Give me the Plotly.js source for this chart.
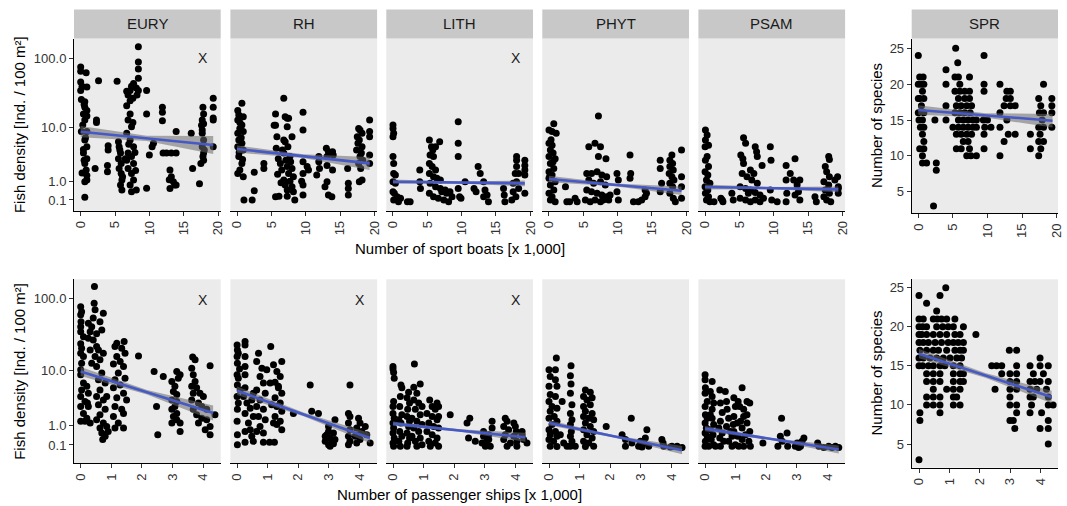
<!DOCTYPE html>
<html><head><meta charset="utf-8">
<script src="https://cdn.plot.ly/plotly-3.0.1.min.js"></script>
<style>html,body{margin:0;padding:0;background:#fff}#chart{width:1067px;height:506px}</style>
</head><body><div id="chart"></div>
<script>
// ---------- tick labels / categories ----------
const groups = ['EURY','RH','LITH','PHYT','PSAM','SPR'];
const sportBoatTicks = [0,5,10,15,20];
const passengerTicks = [0,1,2,3,4];
const densityTicks = [0.1,1,10,100];
const densityTickText = ['0.1','1.0','10.0','100.0'];
const speciesTicks = [5,10,15,20,25];
const sportBoatTitle = 'Number of sport boats [x 1,000]';
const passengerTitle = 'Number of passenger ships [x 1,000]';
const densityTitle = 'Fish density [Ind. / 100 m²]';
const speciesTitle = 'Number of species';

// ---------- points: [boats or ships (x1000), density (Ind./100 m²) or species] ----------
const boats_EURY = [[0,75],[0,65],[0.8,62],[0,46],[0.9,39],[0,35],[0.1,26],[0.6,24],[0.6,20],[0.9,18],[0.4,16],[0.9,15],[0.6,13],[0.1,8.7],[0.9,8.7],[0.6,6.4],[0.9,5.0],[0.4,3.9],[0.9,3.1],[0.6,2.5],[0.8,1.85],[0.9,1.4],[0.6,0.97],[0.9,1.07],[0.6,0.2],[0.2,40],[0.5,22],[0.3,11],[0.7,7],[0.4,4.5],[0.5,2.9],[0.2,1.6],
[2.6,48],[2.3,13],[2.3,12],[2.1,2.0],[4.0,5.2],[4.0,4.4],[3.9,2.3],[3.9,1.7],
[5.3,47],[5.5,6.0],[5.6,5.0],[5.8,3.9],[5.5,3.1],[5.9,2.5],[5.6,2.0],[5.9,1.56],[6.0,1.07],[5.8,0.77],[6.0,0.51],[5.7,4.4],[6.1,1.3],
[6.7,34],[6.9,30],[7.2,25],[7.4,40],[7.7,44],[7.2,35],[7.6,27],[8.1,38],[8.4,35],[8.4,52],[8.4,144],[8.4,88],[8.4,70],[8.2,30],[6.7,21],[6.9,13],[6.7,8.2],[7.4,10.3],[7.2,6.4],[7.7,5.0],[6.9,3.9],[7.4,3.4],[6.7,2.9],[7.7,2.5],[6.9,2.0],[7.4,1.56],[7.7,1.07],[7.2,0.77],[7.4,0.43],[8.1,0.51],[7.0,5.5],[7.9,4.0],[8.0,1.8],[6.5,3.1],[7.6,12],[7.2,16],
[9.6,35],[9.6,16],[10.4,5.0],[10.0,3.6],[9.6,0.6],[10.6,5.7],[11.9,20],[11.9,17],[11.9,12.7],[12.0,3.9],[12.5,3.9],
[13.2,3.9],[13.0,1.85],[13.2,1.3],[13.5,0.97],[13.7,0.77],[13.0,0.59],[13.9,8.7],[13.9,3.9],[13.9,0.77],[12.9,1.1],[16.1,8.2],[16.3,2.0],
[17.3,0.85],[17.6,10.9],[17.7,9.2],[17.8,20],[17.9,16],[17.7,13],[17.9,11.5],[17.7,8.2],[17.9,6.4],[17.7,5],[17.9,3.9],[17.8,3.4],[17.5,2.5],[18.0,4.4],[17.9,2.9],
[19.3,27],[19.3,20],[19.3,14],[19.3,13],[19.3,5.0]];

const boats_RH = [[0.1,18],[0.7,23],[0.25,15.4],[0.9,14.6],[0.1,13],[0.7,11],[0.4,9.7],[0.1,8.2],[0.9,8.7],[0.25,6.4],[0.7,5.7],[0.1,5.0],[0.9,4.4],[0.25,3.4],[0.7,2.5],[0.4,1.85],[0.1,1.56],[0.9,1.31],[0.4,12],[0.6,7],[0.3,4],[0.8,3],[1.0,0.1],[2.2,0.1],[2.5,0.48],[2.5,1.65],
[3.9,2.5],[3.9,2.0],
[5.6,16],[5.6,10.9],[5.8,7.2],[5.7,4.7],[5.4,10.9],[6.8,27],[7.0,14.6],[7.3,13.8],[7.5,13.8],[7.3,10.3],[6.8,6.4],[7.0,6.0],[7.4,5.0],[6.8,3.9],[7.7,3.4],[6.3,2.5],[7.3,2.2],[8.0,2.0],[6.5,1.85],[7.5,1.56],[8.2,1.31],[6.8,1.07],[7.7,1.0],[7.0,0.77],[8.0,0.68],[7.3,0.51],[8.2,0.43],[5.6,0.22],[6.1,0.24],[7.3,0.24],[8.4,0.1],[6.0,3.1],[6.6,4.4],[7.1,2.9],[5.9,1.5],[6.4,0.9],[8.0,7.2],[7.8,2.7],
[9.6,17],[9.6,9.2],[9.6,2.7],[9.6,1.56],[9.4,1.0],[9.6,0.77],[9.6,0.29],[10.2,2.2],[10.4,1.85],
[11.9,3.4],[11.9,2.7],[12.0,2.0],[11.6,1.43],
[13.0,4.7],[13.3,4.1],[13.1,3.4],[13.1,2.3],[13.1,0.97],[12.8,0.68],[13.3,0.29],[13.8,0.22],[13.9,4.1],[14.0,3.6],[13.9,1.85],
[16.1,2.0],[16.2,0.87],[16.2,0.59],[16.2,0.29],
[17.7,9.7],[17.9,9.2],[17.5,7.2],[18.2,8.2],[17.8,6.4],[18.2,5.0],[17.4,4.4],[17.9,3.4],[18.3,2.9],[17.7,2.5],[18.0,2.0],[17.8,0.97],[18.2,1.07],[17.6,5.7],[18.1,3.9],
[19.3,13],[19.3,8.7],[19.3,7.2],[19.3,3.6],[19.3,2.5]];

const boats_LITH = [[0,11],[0,9.7],[0.1,8.2],[0,7.2],[0,3.4],[0.1,2.5],[0.1,1.56],[0.35,1.43],[0,0.97],[0.35,0.87],[0,0.43],[0.2,0.36],[0.6,0.22],[0.1,0.1],[0.8,0.04],[1.1,0.16],
[2.1,0.04],[2.5,0.04],[3.9,1.85],[3.9,0.97],[4.0,0.59],
[5.3,6.4],[5.6,5.0],[5.8,4.4],[6.8,6.0],[6.2,5.0],[5.4,3.6],[5.9,3.4],[5.3,2.5],[5.7,2.2],[6.2,1.85],[5.3,1.56],[5.9,1.31],[6.4,1.19],[6.9,1.07],[5.4,0.87],[6.2,0.68],[6.9,0.59],[7.6,0.51],[8.3,0.43],[5.3,0.36],[5.9,0.22],[6.6,0.16],[7.4,0.1],[8.1,0.04],[8.6,0.22],[7.8,0.36],[7.1,0.43],
[9.5,12.3],[9.5,5.7],[9.5,3.4],[9.5,0.59],[9.7,0.22],[9.9,0.16],[10.5,0.97],
[11.8,0.59],[12.1,0.43],[12.4,2.2],[12.7,1.56],
[13.2,0.97],[13.4,0.51],[13.7,0.29],[13.9,0.04],[13.2,0.22],
[16.1,0.59],[16.2,0.29],[16.3,0.04],
[18.0,3.4],[18.0,2.9],[17.8,1.56],[17.5,0.87],[18.0,0.97],[18.3,0.59],[17.5,0.43],[17.9,0.22],[17.3,0.1],[18.3,1.56],[18.0,2.2],
[19.2,2.9],[19.2,2.3],[19.2,1.85],[19.2,1.43],[19.2,0.36]];

const boats_PHYT = [[0,9.2],[0.7,11.5],[0.45,8.7],[1.05,8.2],[0,5.7],[0.45,5.3],[0.2,4.4],[0.6,3.9],[0,3.4],[0.9,3.1],[0.2,2.5],[0.7,2.0],[0,1.7],[0.45,1.43],[0,1.19],[0.9,0.97],[0.2,0.77],[0.7,0.51],[0,0.36],[0.45,0.22],[0.2,0.1],[0.9,0.04],[0.3,6.5],[0.6,2.7],[0.1,1.3],
[2.4,0.68],[2.6,0.04],[3.0,0.04],[3.8,0.16],[4.1,0.04],
[7.2,15],[5.8,5.0],[6.7,5.7],[7.5,5.0],[7.2,3.4],[8.3,3.1],[5.5,1.56],[6.2,1.56],[7.0,1.7],[7.7,1.43],[8.4,1.31],[5.8,1.07],[6.5,0.87],[7.5,0.97],[8.2,0.77],[5.5,0.51],[6.2,0.43],[7.0,0.36],[7.7,0.29],[8.4,0.22],[5.3,0.1],[6.0,0.04],[6.7,0.1],[7.5,0.04],[7.9,0.1],[8.7,0.1],[8.9,0.29],[9.9,1.56],[10.1,1.07],[9.9,0.43],[10.1,0.1],
[11.8,3.6],[11.9,1.56],[11.8,1.19],
[12.3,0.04],[13.0,0.04],[13.5,0.1],[14.0,0.22],[14.2,0.36],[14.0,0.51],
[16.2,2.9],[16.2,2.0],[16.4,0.87],[16.2,0.43],
[17.9,3.6],[17.6,2.9],[18.0,2.5],[17.6,2.2],[18.1,1.85],[17.5,1.56],[17.9,1.31],[18.2,1.07],[17.6,0.87],[18.0,0.68],[17.6,0.36],[18.1,0.16],[18.4,0.04],
[19.3,4.4],[19.3,1.31],[19.3,0.68],[19.3,0.16]];

const boats_PSAM = [[0.05,9.2],[0.3,7.7],[0.05,6.4],[0.5,5.3],[0,5.0],[0.3,3.4],[0.05,2.9],[0.5,2.2],[0,1.7],[0.4,1.43],[0.2,1.07],[0.7,0.87],[0,0.68],[0.4,0.51],[0.05,0.36],[0.5,0.22],[0.2,0.1],[0.7,0.04],[1.3,0.04],
[2.3,0.16],[2.6,0.04],[2.5,0.1],[3.9,0.36],[4.1,0.1],
[5.6,7.0],[5.9,5.7],[5.2,3.6],[5.5,3.1],[5.6,2.5],[7.3,5.0],[7.5,4.1],[7.6,3.4],[8.3,2.3],[6.6,1.85],[5.4,1.56],[6.1,1.31],[6.8,1.07],[7.6,0.87],[5.1,0.68],[5.9,0.59],[6.6,0.51],[7.3,0.4],[8.0,0.29],[5.1,0.16],[5.9,0.1],[6.6,0.04],[7.3,0.1],[8.0,0.04],[8.5,0.16],[6.3,0.36],[7.1,1.56],
[9.5,5.0],[9.6,2.9],[9.5,0.51],[9.7,0.1],[10.5,0.04],
[11.8,2.3],[11.8,1.07],[11.9,0.36],[11.8,0.04],
[12.4,1.56],[12.9,1.07],[13.1,3.1],[13.4,0.77],[13.6,0.43],[13.8,1.07],[13.1,0.29],[13.8,0.1],
[16.0,0.22],[16.2,0.04],
[18.0,3.4],[18.1,3.0],[17.5,2.2],[17.7,1.7],[18.1,1.31],[17.3,0.97],[18.0,0.77],[17.5,0.51],[18.1,0.36],[17.3,0.22],[17.7,0.1],[18.3,0.04],[18.9,1.07],[19.3,1.31],
[19.4,0.68],[19.4,0.59],[19.4,0.36]];

const boats_SPR = [[0,24],[0.2,21],[0.7,21],[0,20],[0.45,20],[0.8,20],[0.6,19],[0.2,18],[0.8,18],[0,18],[0.45,17],[0,16],[0.8,16],[0.6,15],[0.1,15],[0.8,14],[0.3,14],[0.6,13],[0.2,11],[0.8,11],[0.6,10],[0.6,9],[1.2,9],[0.8,12],
[2.2,3],[2.6,9],[2.6,8],[2.4,15],[4.0,22],[4.0,20],[4.0,17],[4.0,15],
[5.4,25],[5.7,23],[5.3,21],[5.8,21],[7.4,21],[6.0,20],[5.3,19],[6.0,19],[6.7,19],[7.4,19],[5.8,18],[6.7,18],[7.4,18],[5.5,17],[6.2,17],[7.0,17],[7.7,17],[5.3,16],[6.0,16],[6.7,16],[7.5,16],[5.8,15],[6.5,15],[7.2,15],[7.9,15],[8.4,15],[5.0,14],[5.8,14],[6.5,14],[7.2,14],[7.9,14],[8.4,14],[5.5,13],[6.2,13],[7.0,13],[7.7,13],[6.5,12],[7.2,12],[5.5,11],[6.2,11],[7.4,11],[7.0,10],[7.6,10],[8.4,10],
[9.5,24],[9.5,20],[9.5,19],[9.4,15],[10.0,15],[9.6,14],[10.5,14],[9.5,13],[9.5,11],
[11.8,20],[11.8,16],[11.8,14],[11.8,10],
[12.8,19],[13.3,19],[12.7,18],[13.3,18],[12.4,17],[13.3,17],[14.0,17],[12.8,15],[13.0,13],[14.0,13],[12.4,12],
[16.2,13],[16.2,11],
[18.1,20],[17.4,18],[17.7,17],[17.5,16],[18.1,16],[17.9,15],[17.4,14],[18.1,14],[17.6,13],[17.4,12],[18.1,12],[17.7,11],[17.4,10],
[19.3,18],[19.3,17],[19.3,16],[19.3,14]];

const ships_EURY = [[0,77],[0.03,66],[0,60],[0.01,48],[0,41],[0,35],[0.09,30],[0,24],[0.03,20.7],[0,17.6],[0.09,15.8],[0.03,12.7],[0,10.2],[0,8.6],[0.09,6.4],[0.03,5.0],[0,3.9],[0.14,3.2],[0,2.6],[0.09,1.9],[0,1.28],[0.14,1.28],
[0.45,144],[0.44,86],[0.47,70],[0.41,54],[0.36,41],[0.25,46],[0.31,35],[0.52,33],[0.25,28.5],[0.41,27],[0.52,21.9],[0.31,19.6],[0.47,15.8],[0.36,12.7],[0.2,5.7],[0.25,4.4],[0.22,3.0],[0.25,2.6],[0.2,1.5],[0.31,1.16],[0.63,48],[0.74,63],[0.69,37],
[0.58,19.6],[0.74,17.6],[0.63,14.2],[0.52,11.4],[0.69,9.1],[0.58,7.2],[0.8,6.4],[0.63,5.0],[0.52,3.9],[0.74,3.4],[0.58,2.8],[0.8,2.3],[0.63,1.8],[0.52,1.4],[0.74,1.16],[0.63,0.85],[0.85,0.95],[0.69,0.59],[0.8,0.44],[0.72,0.3],[0.9,0.67],[0.85,3.9],
[1.42,25.7],[1.18,24.3],[1.12,21.9],[1.34,20.7],[1.45,17.6],[1.18,15.8],[1.29,13.4],[1.07,12.3],[1.4,11.4],[1.23,9.1],[1.12,7.2],[1.45,7.6],[1.29,6.0],[1.07,5.4],[1.4,4.4],[1.18,3.7],[1.5,3.4],[1.12,2.6],[1.34,2.3],[1.07,1.65],[1.4,1.9],[1.23,1.16],[1.12,0.85],[1.4,0.85],
[1.89,16.1],[2.4,9.6],[2.48,2.6],[2.52,0.51],[2.7,8.1],
[2.98,6.8],[3.08,5.7],[3.03,4.7],[3.14,4.2],[2.98,3.4],[3.14,3.2],[3.08,2.6],[2.98,2.3],[3.14,1.9],[3.03,1.65],[3.14,1.4],[2.98,1.16],[3.25,1.16],[3.25,0.67],[3.25,8.6],[3.14,9.6],[3.19,7.6],
[3.66,15.5],[3.74,14.2],[3.63,10.7],[3.68,8.6],[3.74,6.8],[3.63,5.7],[3.79,5.4],[3.68,4.4],[3.9,4.4],[4.01,3.9],[3.63,3.4],[3.85,3.0],[3.96,2.6],[3.68,2.3],[4.12,2.3],[3.79,1.8],[3.96,1.5],[4.12,1.4],[3.85,1.16],[4.23,0.95],[4.07,0.76],[4.23,0.51],[4.23,11.6],[4.39,1.8]];

const ships_RH = [[0,23],[0.01,19.6],[0.04,17.6],[0,15.8],[0.01,12.7],[0.08,10.4],[0,8.6],[0.04,7.6],[0.01,6.0],[0.1,5.0],[0,3.9],[0.04,3.0],[0.01,2.3],[0,1.28],[0.01,0.51],[0.01,0.11],[0.26,25.7],[0.26,23],[0.26,15.8],[0.26,11.4],[0.26,8.6],[0.26,5.4],[0.21,3.9],[0.32,3.0],[0.26,1.9],[0.37,1.16],[0.26,0.67],[0.26,0.2],[0.53,4.4],[0.48,3.4],[0.43,2.4],[0.53,1.65],[0.43,0.76],[0.53,0.23],[0.48,0.44],
[0.7,17.6],[0.64,13.4],[0.81,10.7],[0.75,8.1],[0.86,6.4],[0.64,5.0],[0.92,4.4],[0.75,3.4],[0.64,2.6],[0.86,2.3],[0.7,1.65],[0.92,1.4],[0.75,0.95],[0.64,0.67],[0.86,0.59],[0.86,0.2],[1.06,0.2],[0.97,10.2],[1.08,6.4],[1.13,2.8],[1.19,1.16],[1.22,0.2],
[1.1,21.9],[1.19,12],[1.3,9.6],[1.46,13.4],[1.41,8.1],[1.24,6.6],[1.35,5.7],[1.46,4.4],[1.24,3.7],[1.41,3.0],[1.3,2.6],[1.46,2.1],[1.24,1.65],[1.41,1.28],[1.3,1.06],[1.46,0.76],[1.35,5.4],
[1.84,1.9],[2.39,6.0],[2.44,2.1],[2.66,1.9],
[2.99,0.67],[2.93,0.51],[3.04,0.36],[2.88,0.23],[3.1,0.17],[2.99,0.11],[3.15,0.14],[3.04,0.06],[3.2,0.3],[3.15,0.59],[3.2,1.4],[2.99,0.95],[2.88,0.44],
[3.69,6.0],[3.64,1.9],[3.69,1.65],[3.64,1.16],[3.69,0.76],[3.64,0.44],[3.69,0.23],[3.64,0.11],
[3.97,1.5],[4.02,1.16],[3.91,0.85],[4.08,0.67],[3.97,0.51],[4.19,0.95],[4.24,0.51],[4.02,0.3],[3.91,0.17],[4.35,0.17],[3.86,0.44]];

const ships_LITH = [[0,11.4],[0,10.4],[0.02,9.3],[0.04,7.6],[0.02,3.2],[0,2.6],[0,1.9],[0.04,1.5],[0,1.16],[0.02,0.85],[0,0.59],[0.04,0.36],[0,0.17],[0.02,0.06],
[0.26,6.0],[0.29,5.4],[0.24,3.9],[0.22,2.6],[0.29,1.8],[0.19,1.4],[0.26,1.16],[0.22,0.67],[0.29,0.44],[0.19,0.23],[0.24,0.06],
[0.51,4.6],[0.46,3.7],[0.54,3.0],[0.48,2.3],[0.46,1.65],[0.54,1.28],[0.51,0.95],[0.46,0.59],[0.54,0.36],[0.48,0.17],[0.46,0.06],
[0.7,12.3],[0.68,5.5],[0.89,6.2],[0.78,4.4],[0.68,3.4],[0.84,3.0],[0.95,2.6],[0.73,2.3],[0.89,1.8],[0.62,1.5],[0.78,1.28],[0.95,1.06],[0.68,0.85],[0.84,0.67],[0.62,0.44],[0.89,0.36],[0.73,0.23],[0.95,0.11],[0.78,0.06],
[1.2,3.4],[1.28,2.6],[1.44,3.0],[1.38,2.3],[1.11,1.9],[1.28,1.65],[1.44,1.4],[1.17,1.16],[1.33,0.95],[1.49,0.85],[1.11,0.67],[1.28,0.51],[1.44,0.36],[1.17,0.23],[1.38,0.17],[1.22,0.06],[1.49,0.06],[1.49,2.6],[1.49,1.65],
[1.87,1.8],[2.42,1.16],[2.51,1.5],[2.47,0.36],[2.69,0.23],
[2.96,0.44],[3.07,0.23],[3.02,0.06],[3.18,0.06],[3.13,0.3],[3.24,1.28],[3.24,0.85],[2.96,0.67],[2.91,0.17],[3.13,0.51],
[3.67,1.5],[3.73,1.28],[3.62,0.95],[3.78,0.76],[3.67,0.51],[3.62,0.3],[3.84,0.17],[3.73,0.06],[3.95,1.16],[4.0,0.95],[4.03,0.67],[3.95,0.44],[4.05,0.23],[4.22,0.67],[4.22,0.51],[4.27,0.3],[4.38,0.17],[4.05,0.06]];

const ships_PHYT = [[0.24,15],[0,10.2],[0.21,10.2],[0.04,8.1],[0.21,7.2],[0,5.7],[0.26,5.7],[0.04,4.2],[0.21,3.9],[0,3.2],[0.1,2.6],[0.26,2.4],[0.04,2.1],[0.17,1.65],[0,1.5],[0.26,1.28],[0.1,1.06],[0,0.76],[0.21,0.67],[0.04,0.51],[0.26,0.44],[0,0.3],[0.15,0.23],[0.04,0.06],[0.26,0.05],[0.43,3.2],[0.37,0.51],[0.48,0.17],[0.59,0.06],
[0.72,11.6],[0.7,8.3],[0.72,6.2],[0.7,4.4],[0.75,2.8],[0.7,1.9],[0.75,1.4],[0.7,1.06],[0.73,0.67],[0.7,0.44],[0.75,0.23],[0.7,0.06],[0.86,0.06],
[1.19,5.0],[1.35,4.6],[1.13,3.9],[1.41,3.7],[1.24,3.4],[1.13,2.6],[1.35,2.8],[1.19,2.1],[1.41,1.9],[1.13,1.65],[1.3,1.5],[1.46,1.4],[1.19,1.16],[1.35,0.95],[1.13,0.76],[1.46,0.67],[1.24,0.51],[1.41,0.36],[1.13,0.23],[1.3,0.17],[1.46,0.06],[1.19,0.05],
[1.87,0.95],[2.39,0.51],[2.5,0.3],[2.69,1.5],[2.71,0.17],[2.5,0.06],
[2.93,0.06],[3.04,0.03],[3.1,0.17],[3.2,0.76],[3.15,0.36],[3.26,0.06],[2.99,0.23],
[3.69,0.3],[3.73,0.17],[3.75,0.06],[3.97,0.03],[4.02,0.06],[4.19,0.06],[4.35,0.02]];

const ships_PSAM = [[0,8.6],[0,7.2],[0.01,5.4],[0,4.4],[0.07,3.2],[0,2.6],[0.01,1.8],[0.07,1.5],[0,1.16],[0.04,0.85],[0,0.59],[0.07,0.44],[0.01,0.23],[0,0.06],[0.12,0.06],
[0.23,6.8],[0.17,4.7],[0.23,3.9],[0.28,3.0],[0.23,2.3],[0.17,1.8],[0.23,1.5],[0.28,1.06],[0.17,0.76],[0.26,0.51],[0.2,0.3],[0.28,0.11],[0.34,0.06],
[0.48,5.0],[0.5,3.0],[0.56,2.0],[0.5,1.28],[0.45,0.85],[0.56,0.59],[0.48,0.36],[0.61,0.23],[0.5,0.06],
[0.66,4.7],[0.7,3.2],[0.72,2.3],[0.77,1.5],[0.7,0.95],[0.83,0.67],[0.88,0.44],[0.77,0.23],[0.88,0.06],
[0.94,3.7],[0.99,2.6],[0.94,1.65],[1.05,1.16],[0.94,0.67],[1.07,0.44],[0.99,0.11],[1.1,0.06],[0.92,1.06],[1.08,3.2],[1.13,2.6],
[1.21,5.4],[1.26,2.3],[1.37,3.2],[1.46,3.0],[1.26,1.65],[1.37,1.16],[1.21,0.85],[1.46,0.67],[1.32,0.51],[1.21,0.3],[1.43,0.23],[1.26,0.06],[1.48,0.06],[1.16,1.28],[1.37,1.8],
[1.89,0.17],[2.38,0.06],[2.46,0.44],[2.5,1.5],[2.52,0.23],[2.68,0.59],[2.7,0.06],
[2.95,0.06],[3.01,0.17],[3.12,0.06],[3.23,0.36],[3.17,0.23],[3.06,0.02],
[3.68,0.17],[3.72,0.06],[3.88,0.02],[4.04,0.06],[4.15,0.02],[4.37,0.02],[4.26,0.06]];

const ships_SPR = [[0,24],[0.69,24],[0.88,25],[0.25,23],[0.58,22],
[0,21],[0.14,21],[0.47,21],[0.6,21],[0.74,21],[0.91,21],[1.18,21],
[0,20],[0.12,20],[0.25,20],[0.58,20],[0.78,20],[0.96,20],[1.13,20],[1.46,20],
[0,19],[0.09,19],[0.25,19],[0.47,19],[0.69,19],[0.91,19],[1.18,19],[1.35,19],[1.87,19],
[0,18],[0.14,18],[0.31,18],[0.53,18],[0.74,18],[0.96,18],[1.13,18],[1.29,18],[1.46,18],
[0.03,17],[0.25,17],[0.47,17],[0.64,17],[0.91,17],[1.18,17],[1.35,17],[1.46,17],[2.97,17],[3.21,17],
[0,16],[0.14,16],[0.36,16],[0.58,16],[0.8,16],[1.02,16],[1.24,16],[1.4,16],[3.98,16],
[0,15],[0.12,15],[0.31,15],[0.47,15],[0.69,15],[0.85,15],[1.13,15],[1.35,15],[2.39,15],[2.55,15],[2.72,15],[3.21,15],[3.65,15],[3.98,15],[4.25,15],
[0.25,14],[0.47,14],[0.69,14],[1.13,14],[1.35,14],[1.46,14],[2.72,14],[2.99,14],[3.21,14],[3.76,14],[4.09,14],
[0.25,13],[0.47,13],[0.69,13],[1.13,13],[1.35,13],[1.46,13],[2.99,13],[3.21,13],[3.65,13],[3.81,13],[3.98,13],[4.25,13],
[0.47,12],[0.91,12],[1.13,12],[1.35,12],[2.5,12],[2.99,12],[3.21,12],[3.65,12],[3.87,12],[4.19,12],
[0.25,11],[0.47,11],[0.69,11],[1.13,11],[1.24,11],[2.99,11],[3.65,11],[3.76,11],[4.25,11],
[0.25,10],[0.47,10],[0.69,10],[1.13,10],[1.35,10],[2.99,10],[3.21,10],[3.7,10],[4.25,10],[4.41,10],
[0.03,9],[0.69,9],[3.21,9],[3.65,9],[4.03,9],
[0.03,8],[2.99,8],[3.1,8],[4.25,8],
[3.15,7],[3.98,7],[4.25,7],[4.25,5],[0,3]];

// ---------- fitted lines: rows [x, fitted value, half-width of band] ----------
// fish panels on the log10(density + 1) scale, SPR panels in number of species
const fitBoats_EURY = [[0,0.985,0.078],[9.6,0.893,0.035],[19.3,0.801,0.125]];
const fitBoats_RH   = [[0,0.746,0.05],[9.6,0.647,0.025],[19.3,0.547,0.09]];
const fitBoats_LITH = [[0,0.294,0.03],[9.6,0.283,0.015],[19.2,0.271,0.04]];
const fitBoats_PHYT = [[0,0.331,0.046],[9.6,0.25,0.02],[19.3,0.169,0.06]];
const fitBoats_PSAM = [[0,0.220,0.035],[9.7,0.204,0.015],[19.4,0.188,0.04]];
const fitBoats_SPR  = [[0,16.4,0.65],[9.7,15.65,0.3],[19.4,14.9,0.95]];
const fitShips_EURY = [[0,1.025,0.06],[2.17,0.747,0.03],[4.33,0.469,0.1]];
const fitShips_RH   = [[0,0.767,0.058],[2.17,0.451,0.025],[4.34,0.135,0.067]];
const fitShips_LITH = [[0,0.327,0.03],[2.17,0.236,0.015],[4.33,0.144,0.06]];
const fitShips_PHYT = [[0,0.336,0.035],[2.17,0.154,0.015],[4.35,-0.029,0.055]];
const fitShips_PSAM = [[0,0.260,0.035],[2.18,0.12,0.015],[4.37,-0.020,0.053]];
const fitShips_SPR  = [[0,16.56,0.6],[2.18,13.78,0.3],[4.36,11.0,0.8]];

// significance marks
const marksBoats = ['EURY','LITH'];
const marksShips = ['EURY','RH','LITH'];

// ---------- layout helpers ----------
const W = 1067, H = 506;
const FONT = 'Liberation Sans, Arial, Helvetica, sans-serif';
const fx = p => p / W, fy = p => 1 - p / H;
const tr = v => Math.log10(v + 1);

const boatsData = [boats_EURY, boats_RH, boats_LITH, boats_PHYT, boats_PSAM, boats_SPR];
const shipsData = [ships_EURY, ships_RH, ships_LITH, ships_PHYT, ships_PSAM, ships_SPR];
const boatsFit = [fitBoats_EURY, fitBoats_RH, fitBoats_LITH, fitBoats_PHYT, fitBoats_PSAM, fitBoats_SPR];
const shipsFit = [fitShips_EURY, fitShips_RH, fitShips_LITH, fitShips_PHYT, fitShips_PSAM, fitShips_SPR];

const lefts = [74, 230.4, 386.3, 542.3, 698.4, 911.7];
const widths = [146.7, 146.7, 146.7, 146.7, 146.7, 146.3];
const rows = [
  {data: boatsData, fit: boatsFit, ticks: sportBoatTicks, top: 38.5, bottom: [210.7, 213.3],
   xr: [[-0.974, 20.39], [-0.954, 20.19]], yr: [[-0.107, 2.274], [1.99, 26.37]], marks: marksBoats},
  {data: shipsData, fit: shipsFit, ticks: passengerTicks, top: 279.3, bottom: [463.3, 467.7],
   xr: [[-0.219, 4.577], [-0.24, 4.57]], yr: [[-0.204, 2.259], [1.97, 26.07]], marks: marksShips}
];

const traces = [];
const layout = {
  width: W, height: H, margin: {l: 0, r: 0, t: 0, b: 0},
  paper_bgcolor: '#ffffff', plot_bgcolor: '#ebebeb', showlegend: false,
  font: {family: FONT, color: '#1a1a1a'},
  shapes: [], annotations: []
};

let k = 0;
rows.forEach((row, r) => {
  groups.forEach((g, i) => {
    k++;
    const isSpr = (g === 'SPR');
    const xa = 'x' + (k === 1 ? '' : k), ya = 'y' + (k === 1 ? '' : k);
    const left = lefts[i], right = lefts[i] + widths[i];
    const bottom = row.bottom[isSpr ? 1 : 0];
    const pts = row.data[i];
    const yv = isSpr ? (v => v) : tr;
    traces.push({
      type: 'scatter', mode: 'markers', xaxis: xa, yaxis: ya,
      x: pts.map(d => d[0]), y: pts.map(d => yv(d[1])),
      marker: {color: '#000000', size: 7, line: {width: 0}}, hoverinfo: 'skip', cliponaxis: true
    });
    const f = row.fit[i];
    const bx = f.map(d => d[0]);
    const lo = f.map(d => d[1] - d[2]);
    const hi = f.map(d => d[1] + d[2]);
    traces.push({
      type: 'scatter', mode: 'lines', xaxis: xa, yaxis: ya,
      x: bx.concat(bx.slice().reverse()), y: lo.concat(hi.slice().reverse()),
      fill: 'toself', fillcolor: 'rgba(105,105,105,0.55)', line: {width: 0}, hoverinfo: 'skip'
    });
    traces.push({
      type: 'scatter', mode: 'lines', xaxis: xa, yaxis: ya,
      x: [bx[0], bx[bx.length - 1]], y: [f[0][1], f[f.length - 1][1]],
      line: {color: '#4659c4', width: 2.6}, hoverinfo: 'skip'
    });

    const showY = (i === 0) || isSpr;
    layout['xaxis' + (k === 1 ? '' : k)] = {
      domain: [fx(left), fx(right)], anchor: ya, range: isSpr ? row.xr[1] : row.xr[0],
      tickvals: row.ticks, ticktext: row.ticks.map(String), tickangle: -90,
      showgrid: false, zeroline: false, showline: true, linecolor: '#000000', linewidth: 1,
      ticks: 'outside', ticklen: 4, tickwidth: 1, tickcolor: '#333333',
      tickfont: {family: FONT, size: 13, color: '#333333'}, fixedrange: true
    };
    layout['yaxis' + (k === 1 ? '' : k)] = {
      domain: [fy(bottom), fy(row.top)], anchor: xa, range: isSpr ? row.yr[1] : row.yr[0],
      tickvals: isSpr ? speciesTicks : densityTicks.map(tr),
      ticktext: isSpr ? speciesTicks.map(String) : densityTickText,
      showticklabels: showY, showline: showY, linecolor: '#000000', linewidth: 1,
      ticks: showY ? 'outside' : '', ticklen: 4, tickwidth: 1, tickcolor: '#333333',
      showgrid: false, zeroline: false,
      tickfont: {family: FONT, size: 13, color: '#333333'}, fixedrange: true
    };

    if (r === 0) {
      layout.shapes.push({type: 'rect', xref: 'paper', yref: 'paper', x0: fx(left), x1: fx(right),
        y0: fy(38.5), y1: fy(9.5), fillcolor: '#c8c8c8', line: {width: 0}, layer: 'below'});
      layout.annotations.push({xref: 'paper', yref: 'paper', x: fx((left + right) / 2), y: fy(24),
        text: g, showarrow: false, xanchor: 'center', yanchor: 'middle',
        font: {family: FONT, size: 15, color: '#1a1a1a'}});
    }
    if (row.marks.indexOf(g) >= 0) {
      layout.annotations.push({xref: xa + ' domain', yref: ya + ' domain', x: 0.882, y: 0.888,
        text: 'X', showarrow: false, xanchor: 'center', yanchor: 'middle',
        font: {family: FONT, size: 14, color: '#1a1a1a'}});
    }
  });
});

const titleFont = {family: FONT, size: 15, color: '#000000'};
layout.annotations.push(
  {xref: 'paper', yref: 'paper', x: fx(459.5), y: fy(248), text: sportBoatTitle, showarrow: false, xanchor: 'center', yanchor: 'middle', font: titleFont},
  {xref: 'paper', yref: 'paper', x: fx(459.5), y: fy(494), text: passengerTitle, showarrow: false, xanchor: 'center', yanchor: 'middle', font: titleFont},
  {xref: 'paper', yref: 'paper', x: fx(19.5), y: fy(124.6), text: densityTitle, textangle: -90, showarrow: false, xanchor: 'center', yanchor: 'middle', font: titleFont},
  {xref: 'paper', yref: 'paper', x: fx(19.5), y: fy(371.3), text: densityTitle, textangle: -90, showarrow: false, xanchor: 'center', yanchor: 'middle', font: titleFont},
  {xref: 'paper', yref: 'paper', x: fx(876), y: fy(126), text: speciesTitle, textangle: -90, showarrow: false, xanchor: 'center', yanchor: 'middle', font: titleFont},
  {xref: 'paper', yref: 'paper', x: fx(876), y: fy(373.5), text: speciesTitle, textangle: -90, showarrow: false, xanchor: 'center', yanchor: 'middle', font: titleFont}
);

Plotly.newPlot('chart', traces, layout, {staticPlot: true, displayModeBar: false});
</script>
</body></html>
